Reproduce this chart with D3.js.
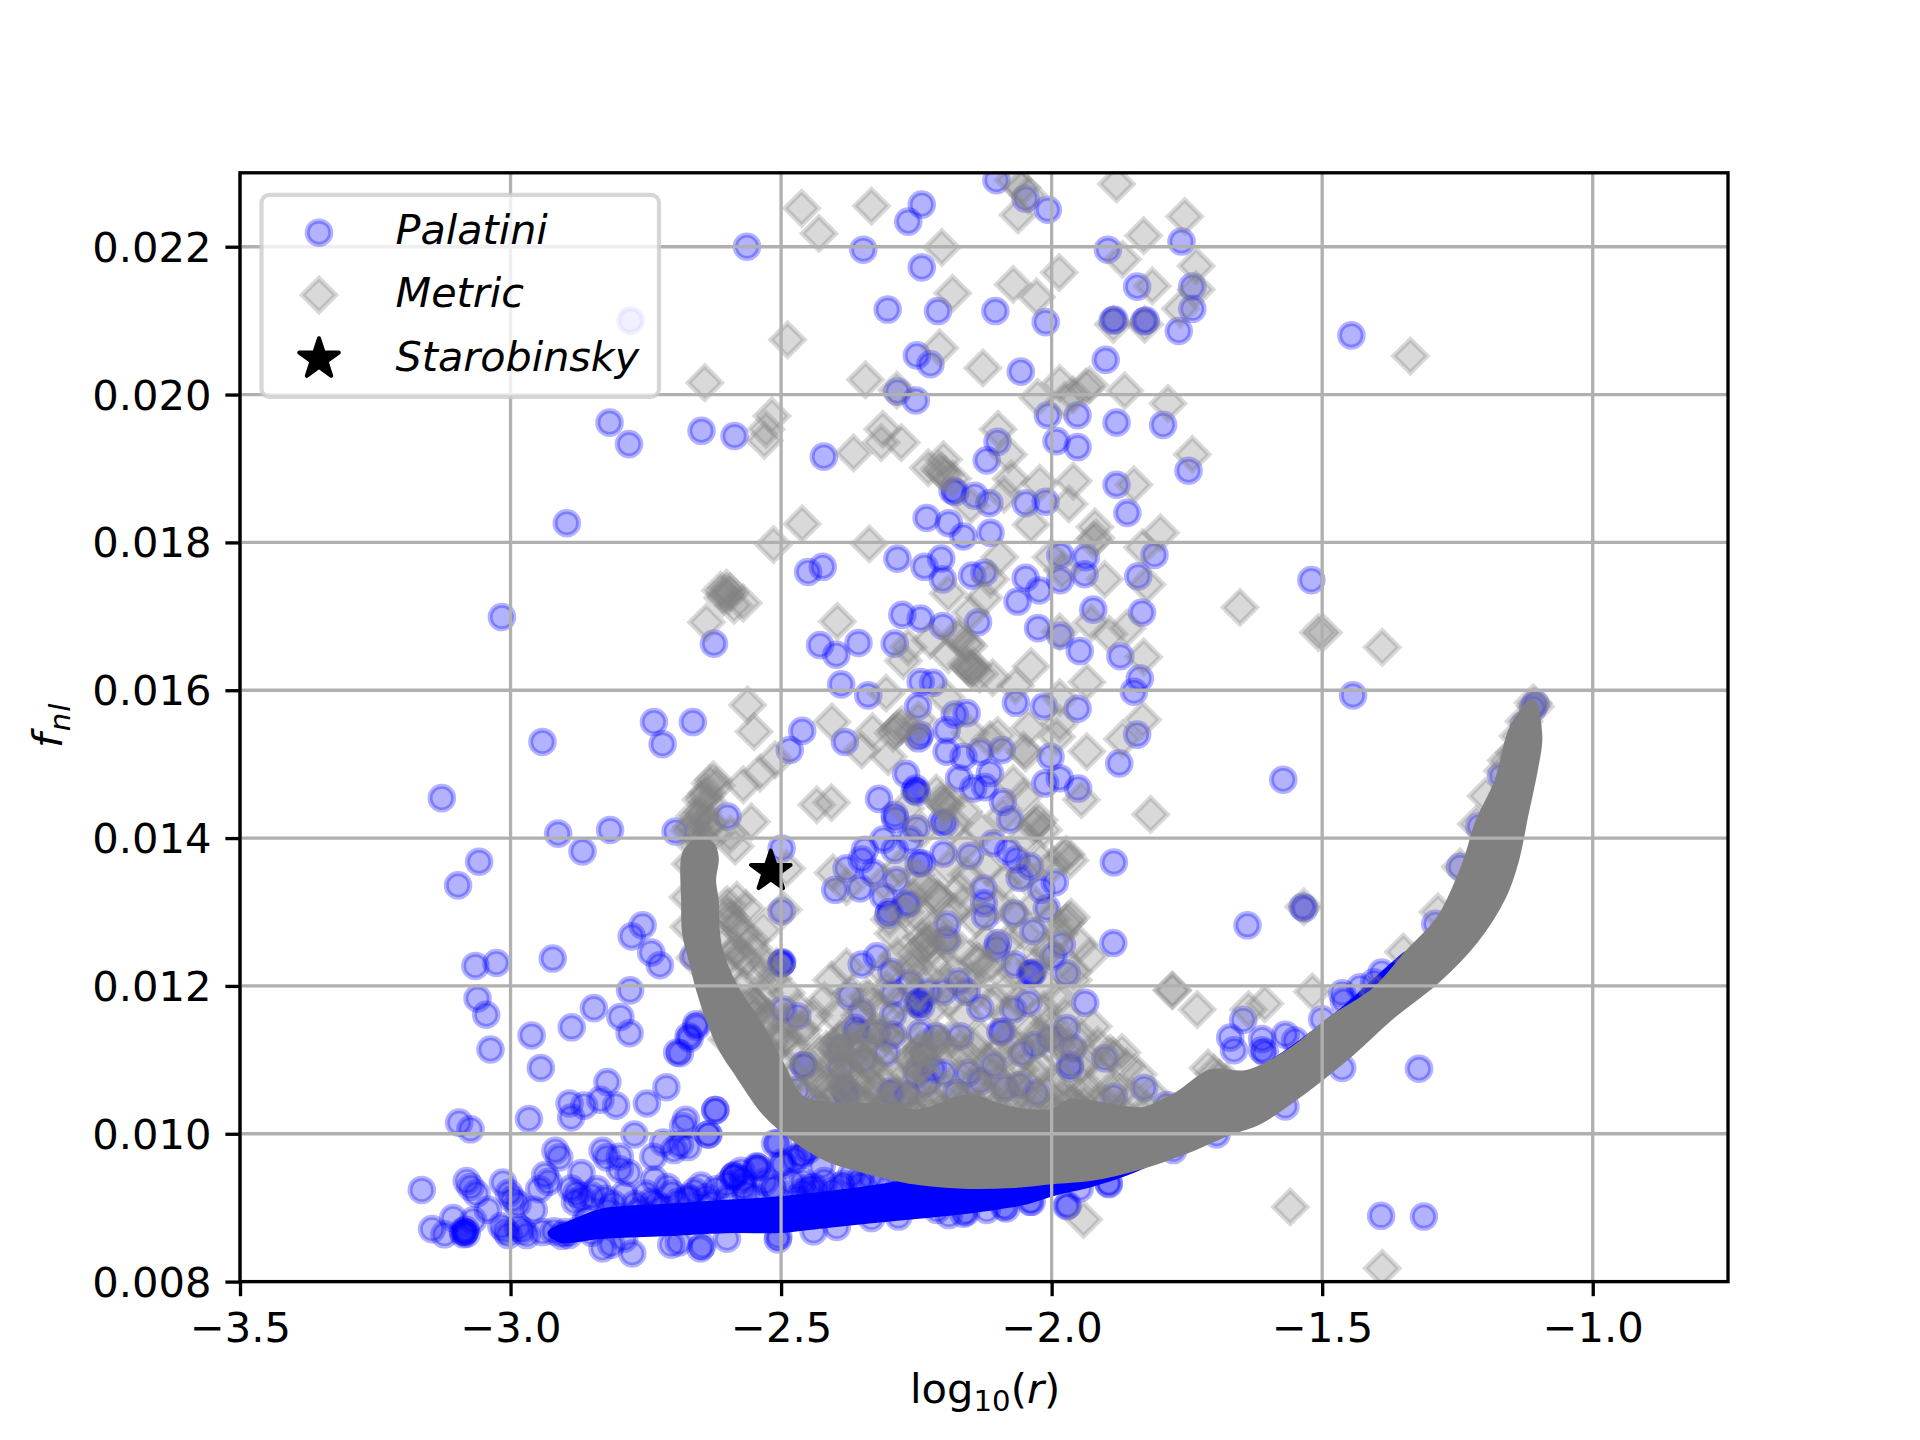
<!DOCTYPE html>
<html><head><meta charset="utf-8">
<script src="https://d3js.org/d3.v7.min.js"></script>
<style>
html,body{margin:0;padding:0;background:#fff}
text{font-family:"DejaVu Sans";fill:#000}
</style></head><body><svg id="c" width="1920" height="1440"></svg>
<script>
const xTicks=[-3.5,-3.0,-2.5,-2.0,-1.5,-1.0];
const yTicks=[0.008,0.010,0.012,0.014,0.016,0.018,0.020,0.022];
const legendLabels=["Palatini","Metric","Starobinsky"];
const starobinsky=[[-2.519,0.01355]];

// Palatini: isolated points
const palatini=[[-2.102,.0229],[-2.048,.02265],[-2.007,.0225],[-2.24,.02257],[-2.265,.02234],[-2.348,.02196],[-2.563,.022],[-2.24,.02172],[-2.778,.0210],[-2.303,.02115],[-2.21,.02113],[-2.104,.02113],[-2.011,.02098],[-1.896,.02196],[-1.76,.02207],[-1.842,.02146],[-1.74,.02146],[-1.74,.02116],[-1.887,.021],[-1.884,.02101],[-1.826,.021],[-1.829,.02099],[-1.765,.02086],[-1.446,.0208],[-2.249,.02053],[-2.224,.02041],[-2.057,.02031],[-1.9,.02047],[-2.285,.02004],[-2.251,.01992],[-2.007,.01972],[-1.952,.01972],[-1.88,.01962],[-1.794,.01959],[-2.1,.01936],[-1.991,.01937],[-1.952,.01929],[-2.12,.01911],[-2.421,.01916],[-2.817,.01962],[-2.781,.01933],[-2.647,.01951],[-2.586,.01944],[-2.896,.01826],[-1.747,.01897],[-1.88,.01878],[-2.183,.0187],[-2.178,.01868],[-2.142,.01863],[-2.115,.01853],[-2.048,.01853],[-2.011,.01855],[-1.86,.0184],[-2.231,.01833],[-2.19,.01826],[-2.163,.01808],[-2.113,.01813],[-2.45,.0176],[-2.423,.01767],[-2.285,.01778],[-2.204,.01778],[-2.235,.01767],[-2.201,.0175],[-2.147,.01755],[-2.124,.01759],[-2.048,.01752],[-1.984,.01783],[-1.937,.0178],[-1.939,.01757],[-1.984,.01749],[-2.023,.01735],[-2.063,.0172],[-1.923,.01709],[-1.833,.01705],[-1.84,.01754],[-1.81,.01783],[-1.52,.01749],[-3.016,.01699],[-2.276,.01702],[-2.242,.01697],[-2.201,.01687],[-2.136,.01692],[-2.29,.01663],[-2.624,.01663],[-2.428,.01661],[-2.357,.01664],[-2.398,.01648],[-2.025,.01684],[-1.984,.01674],[-1.948,.01653],[-1.873,.01646],[-1.837,.01616],[-1.848,.01598],[-2.242,.01611],[-2.219,.0161],[-2.389,.01608],[-2.339,.01593],[-2.247,.01578],[-2.066,.01583],[-2.014,.01578],[-1.952,.01575],[-1.443,.01593],[-2.735,.01557],[-2.663,.01557],[-2.461,.01545],[-2.941,.0153],[-2.719,.01527],[-2.484,.01519],[-2.382,.0153],[-2.179,.01567],[-2.157,.01569],[-1.842,.0154],[-1.875,.01501],[-2.002,.0151],[-2.194,.01546],[-2.246,.01535],[-2.243,.0154],[-2.194,.01517],[-2.163,.0151],[-2.132,.01517],[-2.092,.01519],[-2.269,.01487],[-2.251,.01467],[-2.253,.01464],[-2.249,.01462],[-2.171,.01481],[-2.114,.01488],[-2.145,.01467],[-2.123,.01469],[-2.012,.01474],[-1.985,.01481],[-1.951,.01467],[-1.572,.01479],[-3.127,.01454],[-2.09,.01449],[-2.319,.01453],[-2.077,.01425],[-2.29,.01431],[-2.289,.01426],[-2.599,.01429],[-2.25,.01413],[-2.203,.01422],[-2.197,.0142],[-2.311,.01398],[-2.345,.01384],[-2.29,.01384],[-2.262,.01398],[-2.2,.01379],[-2.151,.01376],[-2.108,.01393],[-2.08,.01382],[-2.065,.01371],[-2.04,.01362],[-2.246,.01366],[-2.24,.01366],[-2.499,.01386],[-2.379,.01359],[-2.351,.01371],[-2.33,.01353],[-2.4,.0133],[-2.354,.01332],[-2.287,.01343],[-2.059,.01346],[-1.994,.0134],[-2.019,.0133],[-2.126,.01332],[-1.885,.01367],[-2.311,.01321],[-2.268,.0131],[-2.265,.01312],[-2.302,.01296],[-2.3,.013],[-2.125,.01312],[-2.123,.01294],[-2.009,.01305],[-2.069,.01298],[-2.499,.01301],[-2.193,.01283],[-2.034,.01274],[-2.099,.01258],[-2.102,.01251],[-2.194,.01262],[-1.886,.01258],[-1.981,.01256],[-2.662,.0124],[-2.499,.01231],[-2.498,.01232],[-2.5,.0123],[-2.323,.0124],[-2.351,.01229],[-2.068,.01229],[-2.037,.01217],[-2.04,.01216],[-2.034,.01218],[-1.997,.0124],[-1.972,.01217],[-2.296,.01219],[-2.262,.01204],[-2.228,.01192],[-2.172,.01206],[-2.157,.01192],[-2.2,.01192],[-2.373,.01186],[-2.246,.01177],[-2.248,.01175],[-2.244,.01179],[-2.241,.01172],[-2.293,.0119],[-2.132,.0117],[-2.043,.01177],[-2.071,.01168],[-1.938,.01177],[-2.496,.01168],[-2.47,.01159],[-2.351,.01165],[-2.293,.01161],[-2.363,.01143],[-2.36,.01138],[-2.323,.01136],[-2.293,.01134],[-2.095,.01138],[-2.091,.01138],[-2.243,.01136],[-2.213,.01132],[-2.169,.01132],[-1.972,.01143],[-2.003,.01129],[-2.031,.0112],[-2.055,.01109],[-1.96,.01116],[-2.305,.01109],[-2.391,.01116],[-2.348,.011],[-2.237,.01105],[-2.459,.01093],[-2.457,.01092],[-2.391,.01089],[-1.966,.01093],[-1.966,.01089],[-1.901,.01102],[-2.219,.01087],[-2.108,.01093],[-2.25,.0108],[-2.2,.01082],[-2.154,.01082],[-2.132,.01071],[-2.382,.01059],[-2.385,.01062],[-2.379,.01055],[-2.299,.01057],[-2.295,.01055],[-2.268,.01053],[-2.231,.01068],[-2.176,.01055],[-2.086,.01062],[-2.059,.01066],[-2.028,.01055],[-1.885,.0105],[-1.829,.01062],[-1.787,.01039],[-2.471,.01059],[-2.431,.01037],[-2.379,.01046],[-2.243,.0101],[-2.2,.01005],[-2.219,.01],[-2.622,.01032],[-2.656,.01145],[-2.669,.01129],[-2.687,.01109],[-2.635,.00999],[-2.511,.00987],[-2.462,.00971],[-2.45,.00978],[-2.475,.00965],[-2.496,.00958],[-2.545,.00956],[-2.588,.00942],[-2.574,.0095],[-2.425,.00956],[-2.354,.00938],[-1.895,.00933],[-1.638,.01282],[-1.536,.01307],[-1.533,.01305],[-1.321,.01088],[-1.391,.00889],[-1.312,.00888],[-1.97,.00903],[-1.611,.01128],[-1.606,.0111],[-1.646,.01154],[-1.67,.0113],[-1.663,.01113],[-1.611,.01113],[-1.568,.01134],[-1.463,.0119],[-1.404,.01205],[-1.568,.01037],[-1.463,.01089],[-1.781,.01023],[-1.894,.00932],[-2.04,.00908],[-2.088,.00901],[-2.158,.00894],[-1.291,.01284],[-1.245,.01361],[-1.21,.01416],[-1.169,.01484],[-1.11,.01576],[-1.127,.01553],[-1.106,.01582],[-2.912,.01406],[-2.816,.01411],[-2.867,.01382],[-2.695,.01409],[-3.058,.01368],[-3.097,.01336],[-2.756,.01282],[-2.776,.01267],[-2.74,.01245],[-2.724,.01228],[-2.922,.01237],[-3.065,.01227],[-3.026,.01231],[-2.779,.01194],[-3.061,.01183],[-3.045,.01161],[-2.846,.0117],[-2.797,.01158],[-2.78,.01136],[-2.887,.01144],[-2.961,.01133],[-2.657,.01148],[-2.671,.01132],[-2.692,.0111],[-3.037,.01114],[-2.944,.01089],[-2.821,.0107],[-2.712,.01063],[-2.834,.01046],[-2.864,.01038],[-2.805,.01038],[-2.891,.01041],[-2.888,.01022],[-2.748,.01041],[-2.621,.01032],[-2.676,.01019],[-2.681,.0101],[-2.771,.00999],[-2.966,.0102],[-3.095,.01015],[-3.074,.01006],[-2.634,.00999],[-2.718,.00988],[-2.687,.00985],[-2.698,.00978],[-2.672,.00982],[-2.917,.00977],[-2.91,.00968],[-2.83,.00977],[-2.822,.00968],[-2.798,.00969],[-2.736,.00969],[-2.506,.00987],[-2.499,.00961],[-2.464,.00972],[-2.543,.00955],[-2.586,.00944],[-2.511,.00927],[-2.448,.00927],[-2.46,.00935],[-2.435,.00922],[-2.782,.00947],[-2.798,.00952],[-2.869,.00947],[-2.936,.00944],[-2.93,.00935],[-2.947,.00925],[-3.014,.00934],[-3.081,.00936],[-3.074,.00928],[-3.063,.00919],[-3.164,.00924],[-2.996,.00911],[-3.003,.0092],[-2.987,.00905],[-3.042,.00897],[-2.957,.00897],[-2.878,.00919],[-2.888,.00926],[-2.868,.00912],[-2.84,.00925],[-2.85,.00916],[-2.734,.00938],[-2.75,.00919],[-2.74,.00908],[-2.66,.00922],[-2.648,.0093],[-2.672,.00914],[-2.565,.00919],[-3.106,.00886],[-3.145,.00871],[-3.122,.00864],[-3.085,.00867],[-3.087,.00864],[-3.083,.0087],[-3.081,.00865],[-3.088,.00868],[-3.069,.00883],[-3.01,.00869],[-3.004,.00863],[-3.017,.00875],[-2.978,.00869],[-2.97,.00863],[-2.986,.00873],[-2.941,.00867],[-2.899,.00867],[-2.892,.00863],[-2.83,.00845],[-2.814,.0085],[-2.775,.00838],[-2.703,.0085],[-2.649,.00845],[-2.506,.00857],[-2.689,.00853],[-2.646,.00848],[-2.825,.00912],[-2.81,.00905],[-2.79,.00918],[-2.77,.00905],[-2.638,.00914],[-2.702,.00919],[-2.69,.00908],[-2.881,.00908],[-2.588,.00942],[-2.6,.00932],[-2.57,.00938],[-2.545,.00953],[-2.517,.00926],[-2.44,.00928],[-2.42,.00936],[-2.46,.00921],[-2.405,.00922],[-2.385,.00932],[-2.354,.00931],[-2.335,.00942],[-2.397,.00874],[-2.505,.00861],[-2.333,.00886],[-2.283,.00888],[-2.212,.00897],[-2.163,.00892],[-2.084,.00899],[-2.037,.00908],[-1.972,.00902],[-1.948,.00926],[-1.775,.00978],[-1.695,.00999],[-2.92,.00868],[-2.905,.00862],[-2.87,.00873],[-2.85,.00866],[-2.76,.00896],[-2.72,.009],[-2.63,.00906],[-2.6,.00912],[-2.47,.00913],[-2.39,.00929],[-2.31,.00942]];

// Palatini: extra points along the edges of the dense band
const palatiniFringe=[[-2.86,.00885],[-2.82,.00895],[-2.73,.00905],[-2.71,.00928],[-2.67,.00912],[-2.62,.00925],[-2.57,.00928],[-2.55,.00915],[-2.53,.00935],[-2.48,.00935],[-2.37,.00945],[-2.29,.00948],[-2.25,.0095],[-2.79,.00858],[-2.6,.00858],[-2.44,.00868],[-2.19,.0089],[-2.12,.00897],[-1.55,.01126],[-1.5,.01155],[-1.46,.0118],[-1.43,.01198],[-1.39,.01218]];

// Metric: isolated points
const metric=[[-2.462,.02252],[-2.43,.02218],[-2.333,.02255],[-2.203,.02199],[-2.055,.0228],[-2.071,.0229],[-2.043,.0227],[-2.062,.02243],[-1.88,.02285],[-1.754,.02241],[-1.83,.02215],[-1.733,.02174],[-1.869,.02183],[-1.986,.02165],[-2.071,.02149],[-2.028,.02132],[-2.183,.02137],[-1.814,.02147],[-1.733,.02142],[-1.762,.02116],[-1.886,.02095],[-1.828,.02095],[-2.488,.02074],[-2.207,.02063],[-2.127,.02036],[-2.344,.0202],[-2.641,.02016],[-2.286,.02006],[-2.026,.01996],[-1.985,.02015],[-1.937,.0201],[-1.93,.02013],[-1.96,.02],[-1.865,.02005],[-1.785,.01988],[-1.976,.01992],[-2.517,.01971],[-2.528,.01953],[-2.531,.01938],[-2.312,.01953],[-2.315,.01935],[-2.278,.01935],[-2.366,.01921],[-2.099,.01953],[-2.08,.01919],[-1.74,.01919],[-2.228,.01901],[-2.2,.01912],[-2.203,.01896],[-2.208,.01899],[-2.197,.01892],[-2.183,.01886],[-2.15,.0185],[-2.088,.01865],[-2.075,.01886],[-2.022,.0188],[-1.96,.01883],[-1.968,.01852],[-2.038,.01824],[-1.848,.01878],[-1.92,.01821],[-1.923,.01803],[-1.918,.01806],[-1.799,.01813],[-1.832,.01793],[-2.461,.01825],[-2.514,.01797],[-2.337,.01798],[-2.096,.0178],[-2.001,.0178],[-1.98,.01762],[-1.902,.0175],[-2.191,.01731],[-2.113,.0175],[-2.125,.01725],[-1.824,.01743],[-1.652,.01712],[-2.604,.01731],[-2.612,.01735],[-2.597,.01728],[-2.601,.01738],[-2.608,.01725],[-2.594,.01733],[-2.587,.01715],[-2.57,.01718],[-2.638,.01692],[-2.396,.01693],[-2.15,.01705],[-2.175,.01673],[-2.171,.0167],[-2.158,.01663],[-2.153,.0166],[-1.927,.01691],[-1.985,.01679],[-1.894,.01676],[-1.861,.01684],[-2.224,.01668],[-2.274,.0164],[-2.265,.01658],[-2.191,.01648],[-2.154,.01632],[-2.149,.01629],[-2.158,.01635],[-2.145,.01633],[-2.147,.01626],[-2.133,.01622],[-2.038,.01632],[-2.109,.01617],[-1.83,.01645],[-1.935,.01611],[-2.306,.01596],[-2.195,.0159],[-2.067,.01606],[-1.985,.0159],[-2.562,.0158],[-2.55,.01544],[-2.406,.01557],[-2.331,.01544],[-2.282,.01549],[-2.277,.01553],[-2.287,.01546],[-2.257,.01544],[-2.1,.01539],[-2.042,.01549],[-1.985,.01555],[-1.832,.0156],[-1.869,.01534],[-1.337,.02052],[-1.507,.01678],[-1.498,.01678],[-1.389,.01658],[-1.534,.01307],[-1.518,.01192],[-1.776,.01194],[-1.731,.01168],[-1.606,.01176],[-1.636,.01168],[-1.559,.00901],[-1.941,.00884],[-1.389,.00818],[-1.817,.01432],[-1.106,.01578],
[-2.293,.01542],[-2.351,.01519],[-2.302,.0151],[-2.246,.0156],[-1.935,.01517],[-2.052,.01519],[-2.048,.01515],[-1.991,.01537],[-2.114,.01533],[-2.151,.01542],
[-2.625,.01479],[-2.631,.01474],[-2.62,.01471],[-2.641,.01456],[-2.637,.01461],[-2.648,.01452],[-2.635,.01449],[-2.57,.01472],[-2.539,.01488],[-2.511,.01506],[-2.434,.01445],[-2.407,.01448],[-2.555,.01422],[-2.585,.01389],[-2.642,.01425],[-2.625,.01407],[-2.594,.01405],
[-2.2,.01447],[-2.195,.01443],[-2.205,.0145],[-2.19,.01451],[-2.163,.01436],[-2.213,.01461],[-2.071,.01474],[-2.052,.01456],[-2.028,.0142],[-2.023,.01424],[-2.033,.01417],[-2.015,.01411],[-1.978,.01375],[-1.973,.01378],[-1.966,.0137],[-1.997,.01364],[-1.945,.01452],[-2.157,.0135],[-2.404,.01353],[-2.379,.01334],[-2.49,.01359],[-2.213,.01321],[-2.208,.01318],[-2.218,.01325],[-2.237,.01334],[-2.163,.01312],[-2.256,.0132],[-2.071,.01298],[-1.969,.01289],[-1.974,.01285],[-1.964,.01293],[-1.985,.01271],[-2.582,.01316],[-2.565,.01305],[-2.595,.01294],[-2.59,.0129],[-2.6,.01298],[-2.496,.01303],[-2.533,.01276],[-2.555,.01262],[-2.582,.01249],[-2.293,.01271],[-2.231,.01258],[-2.236,.01254],[-2.226,.01262],[-2.24,.01266],[-2.222,.0125],[-2.2,.01262],[-2.195,.01258],[-2.256,.01244],[-1.948,.01256],[-2.009,.01249],[-2.004,.01246],[-2.139,.01235],[-2.134,.01232],[-2.12,.01226],[-2.262,.01226],[-2.257,.01222],[-2.213,.01226],[-2.379,.01226],[-2.407,.01208],[-2.508,.01226],[-2.539,.01213],[-2.564,.01235],[-2.595,.0124],[-1.778,.01194],[-1.96,.01208],
[-2.342,.01186],[-2.337,.01182],[-2.305,.01195],[-2.194,.01204],[-2.083,.01195],[-2.015,.01168],[-1.991,.01181],[-2.545,.01172],[-2.551,.01176],[-2.54,.01168],[-2.527,.01154],[-2.522,.01158],[-2.465,.01141],[-2.496,.01127],[-2.491,.01131],[-2.416,.01114],[-2.391,.01127],[-2.387,.01131],[-2.395,.01123],[-2.397,.01114],[-2.393,.01109],[-2.402,.01117],[-2.367,.01114],[-2.362,.0111],[-2.372,.01118],[-2.33,.01136],[-2.326,.0114],[-2.335,.01132],[-2.31,.01136],[-2.305,.0113],[-2.342,.01096],[-2.338,.01092],[-2.347,.011],[-2.293,.01082],[-2.243,.01114],[-2.248,.0111],[-2.238,.01118],[-2.234,.0111],[-2.206,.01123],[-2.201,.01119],[-2.211,.01127],[-2.17,.01114],[-2.145,.01118],[-2.12,.011],[-2.115,.01096],[-2.243,.01091],[-2.248,.01087],[-2.238,.01095],[-2.071,.01114],[-2.022,.01136],[-1.991,.01127],[-1.986,.01123],[-1.923,.01145],[-1.892,.01109],[-1.886,.01105],[-1.948,.01091],[-2.022,.01091],[-2.059,.01087],[-2.096,.01068],[-2.145,.01068],[-2.17,.01046],[-2.219,.01046],[-1.948,.01055],[-1.978,.01073],[-2.009,.01055],[-2.04,.01046],[-2.071,.01046],[-1.861,.01091],[-2.416,.01068],[-2.44,.01077],[-2.379,.01087],[-2.374,.01083],[-2.384,.01091],[-2.379,.01059],[-2.374,.01055],[-2.384,.01063],[-2.33,.01064],[-2.325,.0106],[-2.286,.01055],[-2.281,.01051],[-2.262,.01046],[-2.257,.01042],[-2.342,.01037],[-2.337,.01033],[-2.347,.01041],[-2.305,.01033],[-2.3,.01029],[-2.31,.01037],[-2.41,.01046],[-2.434,.01041],[-1.96,.01041],[-1.955,.01037],[-1.965,.01045],[-1.917,.01041],[-1.874,.01055],[-1.824,.01033],[-1.997,.01033],[-1.992,.01029],[-2.04,.01028],[-2.102,.01033],[-2.139,.01037],[-2.134,.01033],[-2.206,.01033],[-2.201,.01029],[-2.256,.01028],[-2.251,.01024],
[-1.711,.01089],[-1.7,.01082],[-1.69,.01076],[-1.676,.01071],[-1.11,.01583],[-1.127,.01558],[-1.138,.01538],[-1.167,.01491],[-1.197,.01457],[-1.215,.01419],[-1.245,.01361],[-1.286,.013],[-1.35,.01246],[-1.4,.01192],[-1.145,.01515],[-1.16,.01505],[-2.646,.01398],[-2.658,.0139],[-2.668,.01365],[-2.672,.0132],[-2.671,.0128],[-2.66,.01238],[-2.618,.01165],[-2.6,.01128],
[-2.655,.0141],[-2.64,.01415],[-2.665,.01415],[-2.63,.0142],[-2.65,.0143],[-2.66,.0143],[-2.67,.0141],[-2.645,.01435]];

// Metric: further points in the crowded cloud above the band
const metricCloud=[[-2.6,.0131],[-2.585,.0128],[-2.6,.0126],[-2.575,.0124],[-2.598,.0122],[-2.57,.012],[-2.595,.0119],[-2.555,.0118],[-2.58,.0116],[-2.53,.0119],[-2.55,.0116],[-2.525,.0115],[-2.56,.0113],[-2.54,.0112],[-2.51,.0113],[-2.52,.0111],[-2.49,.0115],[-2.48,.0112],[-2.5,.011],[-2.525,.0108],[-2.46,.0114],[-2.475,.0108],[-2.49,.0106],[-2.45,.0109],[-2.43,.0111],[-2.455,.0105],[-2.42,.0106],[-2.4,.0105],[-2.38,.0104],[-2.57,.0127],[-2.55,.0125],[-2.53,.0123],[-2.515,.0121],[-2.49,.0119],[-2.47,.0117],[-2.44,.0116],[-2.42,.0118],[-2.4,.0116],[-2.37,.0119],[-2.355,.0116],[-2.32,.0117],[-2.28,.0118],[-2.27,.0115],[-2.25,.0119],[-2.22,.0117],[-2.19,.0118],[-2.16,.0116],[-2.14,.0119],[-2.105,.0118],[-2.085,.0116],[-2.06,.0118],[-2.04,.0114],[-2.005,.0115],[-1.975,.0116],[-1.945,.0113],[-1.915,.0112],[-1.87,.0111],[-1.84,.0108],[-1.81,.0105],[-1.79,.0103],[-2.36,.0113],[-2.33,.0111],[-2.28,.0112],[-2.26,.011],[-2.22,.0112],[-2.185,.0113],[-2.16,.011],[-2.13,.0113],[-2.1,.0111],[-2.08,.0113],[-2.05,.0111],[-2.02,.0113],[-1.99,.0111],[-1.97,.0112],[-1.93,.011],[-1.91,.0108],[-1.89,.0106],[-1.85,.0105],[-2.36,.0107],[-2.33,.0109],[-2.31,.0107],[-2.27,.0108],[-2.25,.0106],[-2.23,.0108],[-2.19,.0106],[-2.17,.0108],[-2.13,.0106],[-2.11,.0108],[-2.08,.0107],[-2.05,.0107],[-2.03,.0108],[-2.0,.0107],[-1.98,.0105],[-1.93,.0106],[-1.9,.0104],[-2.35,.0105],[-2.32,.0105],[-2.24,.0104],[-2.2,.0105],[-2.16,.0104],[-2.12,.0105],[-2.08,.0105],[-2.06,.0104],[-2.02,.0104],[-1.94,.0104],[-1.87,.0103],[-2.43,.0107],[-2.41,.0109],[-2.38,.0108],[-2.15,.0121],[-2.11,.0123],[-2.07,.0122],[-2.03,.0123],[-2.18,.0122],[-2.24,.0122],[-2.31,.0122],[-2.285,.0124],[-2.17,.0125],[-2.12,.0126],[-2.08,.0126],[-2.05,.0127],[-2.22,.0128],[-2.18,.013],[-2.14,.0129],[-2.1,.0131],[-2.03,.0131],[-2.0,.0129],[-1.93,.0124],[-1.96,.0122],[-2.01,.012],[-2.3,.0129],[-2.27,.013],[-2.24,.0129],[-2.17,.0133],[-2.12,.0136],[-2.09,.0134],[-2.05,.0135],[-2.02,.0137],[-2.19,.0136],[-2.25,.0135],[-2.28,.0136],[-2.31,.0134],[-2.16,.0139],[-2.13,.0141],[-2.09,.0143],[-2.05,.014],[-2.24,.0141],[-2.27,.0144],[-2.18,.0142]];

// Saturated bands: the markers overlap until they are opaque and cannot be read singly,
// so only the outline of each band is read from the picture.
const metricBandLower=[[-2.683,.01374],[-2.683,.01316],[-2.681,.01271],[-2.668,.01231],[-2.655,.01194],[-2.637,.01154],[-2.613,.01113],[-2.581,.01077],[-2.539,.01032],[-2.502,.01005],[-2.459,.00982],[-2.41,.00962],[-2.341,.00947],[-2.256,.00933],[-2.164,.00927],[-2.071,.00928],[-2.0,.00933],[-1.923,.00938],[-1.831,.00954],[-1.738,.00978],[-1.676,.00998],[-1.615,.01014],[-1.557,.01042],[-1.452,.01102],[-1.369,.01157],[-1.286,.01205],[-1.215,.01259],[-1.162,.0132],[-1.139,.01367],[-1.121,.0143],[-1.102,.01497],[-1.095,.01538],[-1.11,.01586]];
const metricBandUpper=[[-1.15,.01553],[-1.18,.01477],[-1.215,.01423],[-1.239,.01367],[-1.286,.01293],[-1.345,.01246],[-1.404,.01197],[-1.487,.01157],[-1.557,.01116],[-1.64,.01085],[-1.707,.01086],[-1.768,.01056],[-1.831,.01035],[-1.892,.0104],[-1.966,.01046],[-2.003,.01032],[-2.077,.01036],[-2.156,.01052],[-2.243,.01032],[-2.323,.0104],[-2.415,.01042],[-2.46,.0105],[-2.5,.011],[-2.533,.01145],[-2.582,.012],[-2.61,.0125],[-2.616,.01285],[-2.617,.01315],[-2.622,.01343],[-2.617,.01374],[-2.626,.01393],[-2.65,.01399],[-2.674,.01388]];
const palatiniBandUpper=[[-2.93,.00866],[-2.884,.00883],[-2.834,.00897],[-2.711,.00904],[-2.589,.0091],[-2.502,.00914],[-2.28,.00935],[-2.0,.0098],[-1.8,.0102],[-1.616,.01089],[-1.533,.0113],[-1.463,.0117],[-1.375,.01228],[-1.345,.01246]];
const palatiniBandLower=[[-1.4,.0118],[-1.6,.0105],[-1.831,.00954],[-1.923,.0093],[-1.997,.00917],[-2.045,.00906],[-2.169,.00892],[-2.293,.00883],[-2.415,.00874],[-2.502,.00867],[-2.589,.00867],[-2.711,.00863],[-2.834,.00859],[-2.908,.00854]];

const W=1920,H=1440,L=240,R=1728,T=172.8,B=1281.6;
const x=d3.scaleLinear().domain([-3.5,-0.75]).range([L,R]);
const y=d3.scaleLinear().domain([0.008,0.023]).range([B,T]);
const svg=d3.select("#c");
svg.append("defs").append("clipPath").attr("id","ax").append("rect")
  .attr("x",L).attr("y",T).attr("width",R-L).attr("height",B-T);
const plot=svg.append("g").attr("clip-path","url(#ax)");
const circleR=11.8, markLW=5, sq=d3.symbol().type(d3.symbolSquare).size(23.5*23.5)();
const starPath=d3.symbol().type(d3.symbolStar).size(486)();
const outline=d3.line().x(d=>x(d[0])).y(d=>y(d[1])).curve(d3.curveCatmullRomClosed.alpha(.5));

function blue(sel){return sel.attr("r",circleR).attr("fill","#0000ff").attr("fill-opacity",.3)
  .attr("stroke","#0000ff").attr("stroke-opacity",.3).attr("stroke-width",markLW);}
function gray(sel){return sel.attr("d",sq).attr("fill","#808080").attr("fill-opacity",.3)
  .attr("stroke","#808080").attr("stroke-opacity",.3).attr("stroke-width",markLW);}

plot.selectAll("circle.p").data(palatini.concat(palatiniFringe)).join("circle").attr("class","p")
  .attr("cx",d=>x(d[0])).attr("cy",d=>y(d[1])).call(blue);
plot.append("path").attr("d",outline(palatiniBandUpper.concat(palatiniBandLower))).attr("fill","#0000ff").attr("stroke","#0000ff").attr("stroke-width",2);
plot.selectAll("path.m").data(metric.concat(metricCloud)).join("path").attr("class","m")
  .attr("transform",d=>`translate(${x(d[0])},${y(d[1])}) rotate(45)`).call(gray);
plot.append("path").attr("d",outline(metricBandLower.concat(metricBandUpper))).attr("fill","#808080").attr("stroke","#808080").attr("stroke-width",2);
function star(sel){return sel.attr("d",starPath).attr("fill","#000").attr("stroke","#000").attr("stroke-width",4).attr("stroke-linejoin","round");}
plot.selectAll("path.s").data(starobinsky).join("path").attr("class","s")
  .attr("transform",d=>`translate(${x(d[0])},${y(d[1])})`).call(star);

// grid
const grid=svg.append("g").attr("stroke","#b0b0b0").attr("stroke-width",3.33);
grid.selectAll("line.gx").data(xTicks).join("line").attr("x1",d=>x(d)).attr("x2",d=>x(d)).attr("y1",T).attr("y2",B);
grid.selectAll("line.gy").data(yTicks).join("line").attr("y1",d=>y(d)).attr("y2",d=>y(d)).attr("x1",L).attr("x2",R);

// axes
const fs=41.67;
const ax=svg.append("g").attr("transform",`translate(0,${B})`)
  .call(d3.axisBottom(x).tickValues(xTicks).tickFormat(d3.format(".1f")).tickSize(14.6).tickPadding(16).tickSizeOuter(0));
const ay=svg.append("g").attr("transform",`translate(${L},0)`)
  .call(d3.axisLeft(y).tickValues(yTicks).tickFormat(d3.format(".3f")).tickSize(14.6).tickPadding(14).tickSizeOuter(0));
[ax,ay].forEach(a=>{a.select(".domain").remove();
  a.selectAll(".tick line").attr("stroke","#000").attr("stroke-width",3.33);
  a.selectAll(".tick text").attr("font-family","DejaVu Sans").attr("font-size",fs).attr("fill","#000");});
ay.selectAll(".tick text").attr("dy","0.35em");
svg.append("rect").attr("x",L).attr("y",T).attr("width",R-L).attr("height",B-T)
  .attr("fill","none").attr("stroke","#000").attr("stroke-width",3.33);

// legend
const lg=svg.append("g");
lg.append("rect").attr("x",261.5).attr("y",194.8).attr("width",397.5).attr("height",202).attr("rx",8)
  .attr("fill","#fff").attr("fill-opacity",.8).attr("stroke","#cccccc").attr("stroke-opacity",.8).attr("stroke-width",4.17);
blue(lg.append("circle").attr("cx",319).attr("cy",232.7));
gray(lg.append("path").attr("transform","translate(319,295) rotate(45)"));
star(lg.append("path").attr("transform","translate(319,359)"));
const legendBase=[244,306.7,370.7];
lg.selectAll("text").data(legendLabels).join("text").attr("x",395.5).attr("y",(d,i)=>legendBase[i])
  .attr("font-size",41.3).attr("font-style","italic").text(d=>d);

// axis labels
const xl=svg.append("text").attr("x",910).attr("y",1403).attr("font-size",fs);
xl.append("tspan").text("log");
xl.append("tspan").attr("font-size",fs*.7).attr("dy",8).text("10");
xl.append("tspan").attr("dy",-8).text("(");
xl.append("tspan").attr("font-style","italic").text("r");
xl.append("tspan").text(")");
const yl=svg.append("text").attr("transform","translate(62,748) rotate(-90)").attr("font-size",fs);
yl.append("tspan").attr("font-style","italic").text("f");
yl.append("tspan").attr("font-style","italic").attr("font-size",fs*.7).attr("dx",2).attr("dy",8).attr("letter-spacing",1).text("nl");
</script></body></html>
